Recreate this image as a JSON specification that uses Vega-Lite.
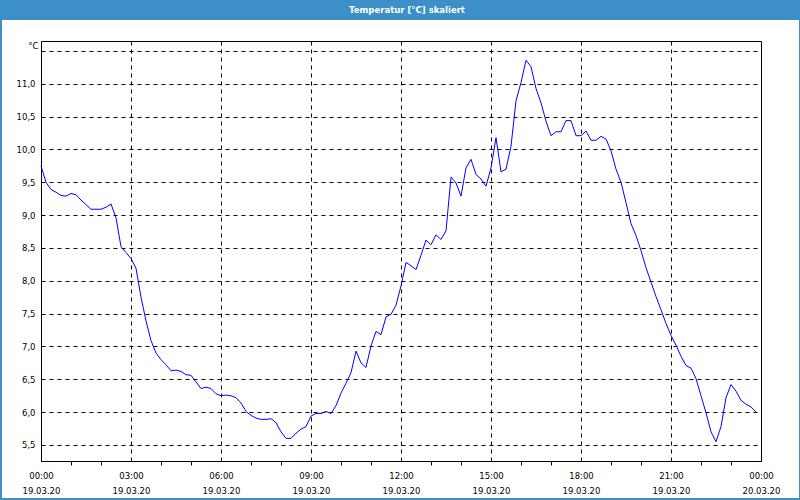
{
  "$schema": "https://vega.github.io/schema/vega-lite/v6.json",
  "background": "white",
  "padding": 0,
  "spacing": 0,
  "datasets": {
    "titleRow": [{"label": "Temperatur [°C] skaliert"}],
    "none": [],
    "temp": [
      {"t": "2020-03-19T00:00", "v": 9.75}, {"t": "2020-03-19T00:10", "v": 9.50}, {"t": "2020-03-19T00:20", "v": 9.39}, {"t": "2020-03-19T00:30", "v": 9.35}, {"t": "2020-03-19T00:40", "v": 9.30}, {"t": "2020-03-19T00:50", "v": 9.29},
      {"t": "2020-03-19T01:00", "v": 9.33}, {"t": "2020-03-19T01:10", "v": 9.31}, {"t": "2020-03-19T01:20", "v": 9.23}, {"t": "2020-03-19T01:30", "v": 9.16}, {"t": "2020-03-19T01:40", "v": 9.09}, {"t": "2020-03-19T01:50", "v": 9.09},
      {"t": "2020-03-19T02:00", "v": 9.09}, {"t": "2020-03-19T02:10", "v": 9.12}, {"t": "2020-03-19T02:20", "v": 9.17}, {"t": "2020-03-19T02:30", "v": 8.96}, {"t": "2020-03-19T02:40", "v": 8.52}, {"t": "2020-03-19T02:50", "v": 8.43},
      {"t": "2020-03-19T03:00", "v": 8.34}, {"t": "2020-03-19T03:10", "v": 8.19}, {"t": "2020-03-19T03:20", "v": 7.75}, {"t": "2020-03-19T03:30", "v": 7.39}, {"t": "2020-03-19T03:40", "v": 7.09}, {"t": "2020-03-19T03:50", "v": 6.90},
      {"t": "2020-03-19T04:00", "v": 6.80}, {"t": "2020-03-19T04:10", "v": 6.72}, {"t": "2020-03-19T04:20", "v": 6.63}, {"t": "2020-03-19T04:30", "v": 6.64}, {"t": "2020-03-19T04:40", "v": 6.62}, {"t": "2020-03-19T04:50", "v": 6.57},
      {"t": "2020-03-19T05:00", "v": 6.56}, {"t": "2020-03-19T05:10", "v": 6.46}, {"t": "2020-03-19T05:20", "v": 6.36}, {"t": "2020-03-19T05:30", "v": 6.38}, {"t": "2020-03-19T05:40", "v": 6.36}, {"t": "2020-03-19T05:50", "v": 6.28},
      {"t": "2020-03-19T06:00", "v": 6.25}, {"t": "2020-03-19T06:10", "v": 6.26}, {"t": "2020-03-19T06:20", "v": 6.25}, {"t": "2020-03-19T06:30", "v": 6.22}, {"t": "2020-03-19T06:40", "v": 6.14}, {"t": "2020-03-19T06:50", "v": 6.01},
      {"t": "2020-03-19T07:00", "v": 5.95}, {"t": "2020-03-19T07:10", "v": 5.91}, {"t": "2020-03-19T07:20", "v": 5.89}, {"t": "2020-03-19T07:30", "v": 5.89}, {"t": "2020-03-19T07:40", "v": 5.90}, {"t": "2020-03-19T07:50", "v": 5.84},
      {"t": "2020-03-19T08:00", "v": 5.70}, {"t": "2020-03-19T08:10", "v": 5.60}, {"t": "2020-03-19T08:20", "v": 5.60}, {"t": "2020-03-19T08:30", "v": 5.68}, {"t": "2020-03-19T08:40", "v": 5.74}, {"t": "2020-03-19T08:50", "v": 5.78},
      {"t": "2020-03-19T09:00", "v": 5.94}, {"t": "2020-03-19T09:10", "v": 5.98}, {"t": "2020-03-19T09:20", "v": 5.98}, {"t": "2020-03-19T09:30", "v": 6.01}, {"t": "2020-03-19T09:40", "v": 5.98}, {"t": "2020-03-19T09:50", "v": 6.10},
      {"t": "2020-03-19T10:00", "v": 6.29}, {"t": "2020-03-19T10:10", "v": 6.44}, {"t": "2020-03-19T10:20", "v": 6.60}, {"t": "2020-03-19T10:30", "v": 6.93}, {"t": "2020-03-19T10:40", "v": 6.75}, {"t": "2020-03-19T10:50", "v": 6.68},
      {"t": "2020-03-19T11:00", "v": 7.01}, {"t": "2020-03-19T11:10", "v": 7.23}, {"t": "2020-03-19T11:20", "v": 7.18}, {"t": "2020-03-19T11:30", "v": 7.45}, {"t": "2020-03-19T11:40", "v": 7.49}, {"t": "2020-03-19T11:50", "v": 7.63},
      {"t": "2020-03-19T12:00", "v": 7.92}, {"t": "2020-03-19T12:10", "v": 8.28}, {"t": "2020-03-19T12:20", "v": 8.23}, {"t": "2020-03-19T12:30", "v": 8.17}, {"t": "2020-03-19T12:40", "v": 8.39}, {"t": "2020-03-19T12:50", "v": 8.62},
      {"t": "2020-03-19T13:00", "v": 8.55}, {"t": "2020-03-19T13:10", "v": 8.70}, {"t": "2020-03-19T13:20", "v": 8.63}, {"t": "2020-03-19T13:30", "v": 8.76}, {"t": "2020-03-19T13:40", "v": 9.58}, {"t": "2020-03-19T13:50", "v": 9.49},
      {"t": "2020-03-19T14:00", "v": 9.29}, {"t": "2020-03-19T14:10", "v": 9.72}, {"t": "2020-03-19T14:20", "v": 9.85}, {"t": "2020-03-19T14:30", "v": 9.62}, {"t": "2020-03-19T14:40", "v": 9.55}, {"t": "2020-03-19T14:50", "v": 9.44},
      {"t": "2020-03-19T15:00", "v": 9.72}, {"t": "2020-03-19T15:10", "v": 10.18}, {"t": "2020-03-19T15:20", "v": 9.66}, {"t": "2020-03-19T15:30", "v": 9.70}, {"t": "2020-03-19T15:40", "v": 10.05}, {"t": "2020-03-19T15:50", "v": 10.74},
      {"t": "2020-03-19T16:00", "v": 11.02}, {"t": "2020-03-19T16:10", "v": 11.36}, {"t": "2020-03-19T16:20", "v": 11.26}, {"t": "2020-03-19T16:30", "v": 10.93}, {"t": "2020-03-19T16:40", "v": 10.71}, {"t": "2020-03-19T16:50", "v": 10.43},
      {"t": "2020-03-19T17:00", "v": 10.21}, {"t": "2020-03-19T17:10", "v": 10.27}, {"t": "2020-03-19T17:20", "v": 10.27}, {"t": "2020-03-19T17:30", "v": 10.44}, {"t": "2020-03-19T17:40", "v": 10.44}, {"t": "2020-03-19T17:50", "v": 10.21},
      {"t": "2020-03-19T18:00", "v": 10.21}, {"t": "2020-03-19T18:10", "v": 10.28}, {"t": "2020-03-19T18:20", "v": 10.14}, {"t": "2020-03-19T18:30", "v": 10.14}, {"t": "2020-03-19T18:40", "v": 10.20}, {"t": "2020-03-19T18:50", "v": 10.16},
      {"t": "2020-03-19T19:00", "v": 9.98}, {"t": "2020-03-19T19:10", "v": 9.70}, {"t": "2020-03-19T19:20", "v": 9.50}, {"t": "2020-03-19T19:30", "v": 9.19}, {"t": "2020-03-19T19:40", "v": 8.87}, {"t": "2020-03-19T19:50", "v": 8.69},
      {"t": "2020-03-19T20:00", "v": 8.46}, {"t": "2020-03-19T20:10", "v": 8.20}, {"t": "2020-03-19T20:20", "v": 7.98}, {"t": "2020-03-19T20:30", "v": 7.76}, {"t": "2020-03-19T20:40", "v": 7.56}, {"t": "2020-03-19T20:50", "v": 7.35},
      {"t": "2020-03-19T21:00", "v": 7.17}, {"t": "2020-03-19T21:10", "v": 7.02}, {"t": "2020-03-19T21:20", "v": 6.85}, {"t": "2020-03-19T21:30", "v": 6.71}, {"t": "2020-03-19T21:40", "v": 6.67}, {"t": "2020-03-19T21:50", "v": 6.51},
      {"t": "2020-03-19T22:00", "v": 6.25}, {"t": "2020-03-19T22:10", "v": 5.99}, {"t": "2020-03-19T22:20", "v": 5.70}, {"t": "2020-03-19T22:30", "v": 5.55}, {"t": "2020-03-19T22:40", "v": 5.78}, {"t": "2020-03-19T22:50", "v": 6.22},
      {"t": "2020-03-19T23:00", "v": 6.42}, {"t": "2020-03-19T23:10", "v": 6.32}, {"t": "2020-03-19T23:20", "v": 6.18}, {"t": "2020-03-19T23:30", "v": 6.12}, {"t": "2020-03-19T23:40", "v": 6.08}, {"t": "2020-03-19T23:50", "v": 6.00}
    ]
  },
  "vconcat": [
    {
      "width": 800,
      "height": 20,
      "view": {"fill": "#3c8fc7", "stroke": null},
      "data": {"name": "titleRow"},
      "mark": {"type": "text", "color": "white", "font": "DejaVu Sans", "fontSize": 8.5, "fontWeight": "bold", "baseline": "middle", "align": "center", "dx": 7},
      "encoding": {"text": {"field": "label", "type": "nominal"}}
    },
    {
      "spacing": 0,
      "hconcat": [
        {
          "width": 2,
          "height": 478,
          "view": {"fill": "#3c8fc7", "stroke": null},
          "data": {"name": "none"},
          "mark": "point"
        },
        {
          "spacing": 19,
          "vconcat": [
            {
              "width": 758,
              "height": 1,
              "view": {"fill": null, "stroke": null},
              "data": {"name": "none"},
              "mark": "point"
            },
            {
              "width": 720,
              "height": 420,
              "view": {"fill": "white", "stroke": "#000000", "strokeWidth": 1},
              "data": {"name": "temp"},
              "mark": {"type": "line", "color": "#0000ff", "strokeWidth": 1},
              "encoding": {
                "x": {
                  "field": "t",
                  "type": "temporal",
                  "scale": {"domain": [{"year": 2020, "month": 3, "date": 19, "hours": 0}, {"year": 2020, "month": 3, "date": 20, "hours": 0}]},
                  "axis": {
                    "title": null,
                    "values": [
                      {"year": 2020, "month": 3, "date": 19, "hours": 0}, {"year": 2020, "month": 3, "date": 19, "hours": 1}, {"year": 2020, "month": 3, "date": 19, "hours": 2},
                      {"year": 2020, "month": 3, "date": 19, "hours": 3}, {"year": 2020, "month": 3, "date": 19, "hours": 4}, {"year": 2020, "month": 3, "date": 19, "hours": 5},
                      {"year": 2020, "month": 3, "date": 19, "hours": 6}, {"year": 2020, "month": 3, "date": 19, "hours": 7}, {"year": 2020, "month": 3, "date": 19, "hours": 8},
                      {"year": 2020, "month": 3, "date": 19, "hours": 9}, {"year": 2020, "month": 3, "date": 19, "hours": 10}, {"year": 2020, "month": 3, "date": 19, "hours": 11},
                      {"year": 2020, "month": 3, "date": 19, "hours": 12}, {"year": 2020, "month": 3, "date": 19, "hours": 13}, {"year": 2020, "month": 3, "date": 19, "hours": 14},
                      {"year": 2020, "month": 3, "date": 19, "hours": 15}, {"year": 2020, "month": 3, "date": 19, "hours": 16}, {"year": 2020, "month": 3, "date": 19, "hours": 17},
                      {"year": 2020, "month": 3, "date": 19, "hours": 18}, {"year": 2020, "month": 3, "date": 19, "hours": 19}, {"year": 2020, "month": 3, "date": 19, "hours": 20},
                      {"year": 2020, "month": 3, "date": 19, "hours": 21}, {"year": 2020, "month": 3, "date": 19, "hours": 22}, {"year": 2020, "month": 3, "date": 19, "hours": 23},
                      {"year": 2020, "month": 3, "date": 20, "hours": 0}
                    ],
                    "labelExpr": "hours(datum.value) % 3 == 0 ? [timeFormat(datum.value, '%H:%M'), timeFormat(datum.value, '%d.%m.%y')] : ''",
                    "labelFont": "DejaVu Sans",
                    "labelFontSize": 8.5,
                    "labelColor": "#000000",
                    "labelLineHeight": 15,
                    "labelPadding": 6,
                    "labelFlush": false,
                    "labelOverlap": false,
                    "labelBound": false,
                    "ticks": true,
                    "tickSize": 4,
                    "tickColor": "#000000",
                    "tickOpacity": {"condition": {"test": "hours(datum.value) % 3 == 0", "value": 0}, "value": 1},
                    "grid": true,
                    "gridColor": "#000000",
                    "gridDash": [4, 4],
                    "gridWidth": 1,
                    "gridOpacity": {"condition": {"test": "hours(datum.value) % 3 == 0", "value": 1}, "value": 0},
                    "domain": true,
                    "domainColor": "#000000"
                  }
                },
                "y": {
                  "field": "v",
                  "type": "quantitative",
                  "scale": {"domain": [5.256, 11.652], "nice": false, "zero": false},
                  "axis": {
                    "title": "°C",
                    "titleAngle": 0,
                    "titleX": -3,
                    "titleY": 0,
                    "titleAlign": "right",
                    "titleBaseline": "top",
                    "titleFont": "DejaVu Sans",
                    "titleFontSize": 8.5,
                    "titleFontWeight": "normal",
                    "titleColor": "#000000",
                    "titlePadding": 0,
                    "values": [5.5, 6, 6.5, 7, 7.5, 8, 8.5, 9, 9.5, 10, 10.5, 11, 11.5],
                    "labelExpr": "datum.value > 11.2 ? '' : replace(format(datum.value, '.1f'), '.', ',')",
                    "labelFont": "DejaVu Sans",
                    "labelFontSize": 8.5,
                    "labelColor": "#000000",
                    "labelPadding": 6,
                    "ticks": false,
                    "tickSize": 0,
                    "domain": false,
                    "grid": true,
                    "gridColor": "#000000",
                    "gridDash": [4, 4],
                    "gridWidth": 1,
                    "gridOpacity": 1,
                    "minExtent": 38,
                    "maxExtent": 38
                  }
                }
              }
            }
          ]
        },
        {
          "width": 2,
          "height": 478,
          "view": {"fill": "#3c8fc7", "stroke": null},
          "data": {"name": "none"},
          "mark": "point"
        }
      ]
    },
    {
      "width": 800,
      "height": 2,
      "view": {"fill": "#3c8fc7", "stroke": null},
      "data": {"name": "none"},
      "mark": "point"
    }
  ]
}
